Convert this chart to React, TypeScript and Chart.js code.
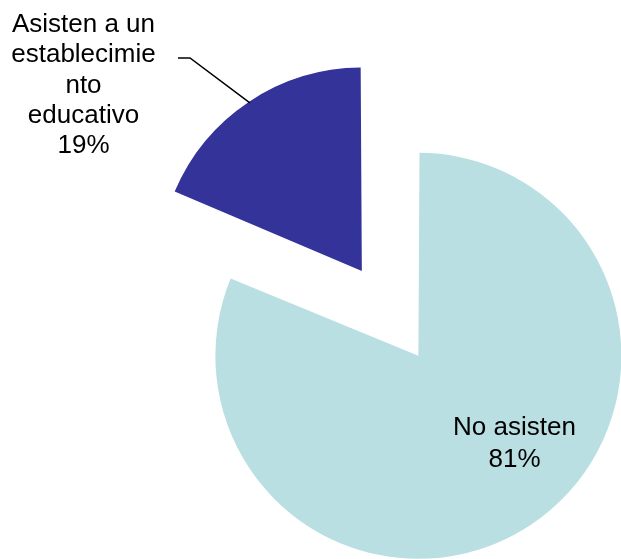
import React, { useEffect, useRef } from "react";
import { Chart, registerables } from "chart.js";

Chart.register(...registerables);

const categories = ["No asisten", "Asisten a un establecimiento educativo"];
const percentages = [81.3, 18.7];
const labelLines = [
  ["No asisten", "81%"],
  ["Asisten a un", "establecimie", "nto", "educativo", "19%"],
];
const sliceColors = ["#B9DFE2", "#333399"];
const explodeOffsets = [28, 380];

const labelPlugin = {
  id: "pieLabels",
  afterDatasetsDraw(chart: any) {
    const meta = chart.getDatasetMeta(0);
    const light = meta.data[0];
    const dark = meta.data[1];
    if (!light || !dark) return;
    const ctx = chart.ctx;
    const cx = light.x;
    const cy = light.y;
    ctx.save();
    ctx.font = '26px "Liberation Sans", Arial, sans-serif';
    ctx.fillStyle = "#000";
    ctx.textAlign = "center";
    ctx.textBaseline = "alphabetic";
    labelLines[0].forEach((t, i) => ctx.fillText(t, cx + 100, cy + 85 + i * 31.5));
    labelLines[1].forEach((t, i) => ctx.fillText(t, cx - 331, cy - 318 + i * 30.3));
    // leader line
    const mid = (dark.startAngle + dark.endAngle) / 2;
    const shift = explodeOffsets[1] / 4;
    const ex = cx + Math.cos(mid) * (shift + dark.outerRadius + 6);
    const ey = cy + Math.sin(mid) * (shift + dark.outerRadius + 6);
    ctx.beginPath();
    ctx.moveTo(cx - 236.5, cy - 292);
    ctx.lineTo(cx - 224.5, cy - 292);
    ctx.lineTo(ex, ey);
    ctx.strokeStyle = "#000";
    ctx.lineWidth = 1.5;
    ctx.stroke();
    ctx.restore();
  },
};

export default function App() {
  const ref = useRef<HTMLCanvasElement>(null);
  useEffect(() => {
    if (!ref.current) return;
    const chart = new Chart(ref.current, {
      type: "pie",
      data: {
        labels: categories,
        datasets: [
          {
            data: percentages,
            backgroundColor: sliceColors,
            borderWidth: 0,
            offset: explodeOffsets,
            hoverOffset: 0,
            radius: 196,
            clip: false,
          } as any,
        ],
      },
      options: {
        animation: false,
        responsive: false,
        devicePixelRatio: 1,
        layout: { padding: { left: 208, top: 141, right: 0, bottom: 0 } },
        plugins: {
          legend: { display: false },
          tooltip: { enabled: false },
        },
        events: [],
      } as any,
      plugins: [labelPlugin],
    });
    return () => chart.destroy();
  }, []);
  return (
    <div style={{ position: "fixed", left: 0, top: 0, width: 621, height: 559, background: "#fff" }}>
      <canvas ref={ref} width={621} height={559} style={{ width: 621, height: 559, display: "block" }} />
    </div>
  );
}
